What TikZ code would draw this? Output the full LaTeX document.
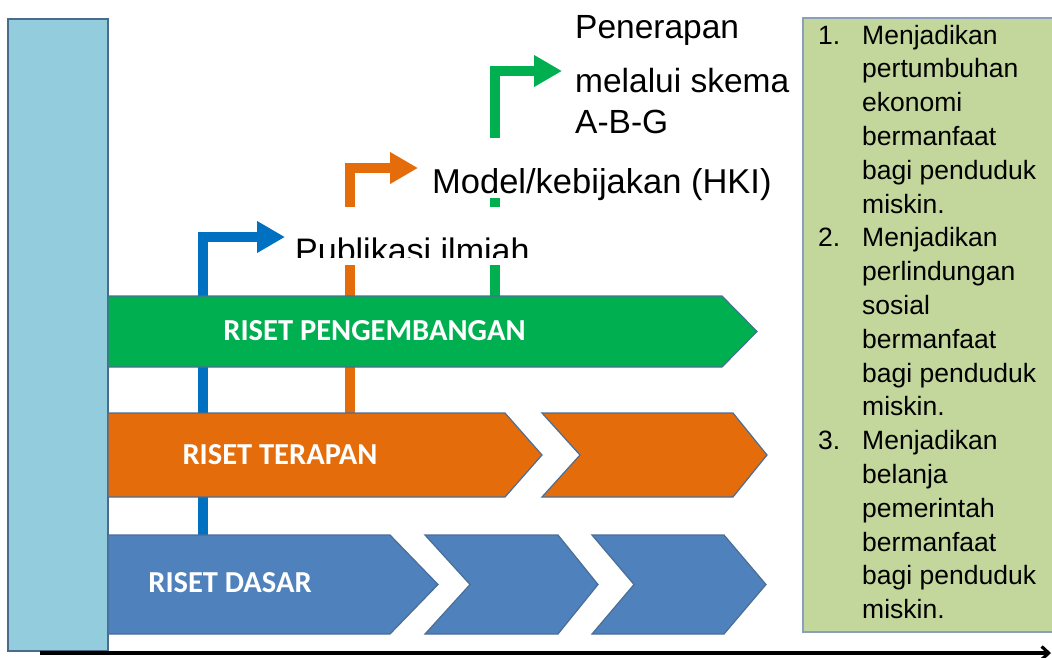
\documentclass[tikz,border=0pt]{standalone}
\usepackage{fontspec}
\setmainfont{Liberation Sans}
\newfontfamily\calib{Carlito}
\usetikzlibrary{arrows.meta}
\definecolor{lbar}{HTML}{93CDDD}
\definecolor{lbarline}{HTML}{4A6B8C}
\definecolor{barline}{HTML}{4A6E96}
\definecolor{gbar}{HTML}{00B050}
\definecolor{obar}{HTML}{E46C0A}
\definecolor{bbar}{HTML}{4F81BD}
\definecolor{barrow}{HTML}{0070C0}
\definecolor{rbox}{HTML}{C3D69B}
\definecolor{rboxline}{HTML}{8A9FBC}
\begin{document}
\begin{tikzpicture}[x=1pt,y=-1pt,
  bar/.style={draw=barline, line width=1.2pt},
  barlabel/.style={text=white, font=\calib\bfseries\fontsize{30.5}{36}\selectfont, inner sep=0},
  flow/.style={line width=10pt, line join=miter, -{Triangle[length=28pt,width=30pt]}},
  lbl/.style={font=\fontsize{34}{40}\selectfont, inner sep=0, anchor=base west},
  listtxt/.style={font=\fontsize{26.5}{32}\selectfont, inner sep=0, anchor=base west}]
\useasboundingbox (0,0) rectangle (1052,657);
% background panels
\draw[fill=lbar, draw=lbarline, line width=2pt] (8,19) rectangle (108,651);
\draw[fill=rbox, draw=rboxline, line width=1.5pt] (803,18) rectangle (1075,632);
% flow arrows
\coordinate (bS) at (203,535);
\coordinate (bE) at (285,237);
\coordinate (oS) at (350,413);
\coordinate (oE) at (418,168);
\coordinate (gS) at (495,296);
\coordinate (gE) at (562,71);
\draw[flow, barrow] (bS) |- (bE);
\draw[flow, obar] (oS) |- (oE);
\draw[flow, gbar] (gS) |- (gE);
% label boxes
\fill[white] (285,207) rectangle (535,265);
\begin{scope}
\clip (0,0) rectangle (1052,257);
\node[lbl] (pub) at (295,262) {Publikasi ilmiah};
\end{scope}
\fill[white] (418,138) rectangle (793,198);
\node[lbl, font=\fontsize{34.5}{40}\selectfont] (model) at (432,193) {Model/kebijakan (HKI)};
\node[lbl, font=\fontsize{33.5}{40}\selectfont] (pen1) at (575,38) {Penerapan};
\node[lbl, font=\fontsize{33.5}{40}\selectfont] (pen2) at (575,92) {melalui skema};
\node[lbl, font=\fontsize{33.5}{40}\selectfont] (pen3) at (575,133) {A-B-G};
% bars
\draw[bar, fill=gbar] (108,296) -- (722,296) -- (757,331.5) -- (722,367) -- (108,367) -- cycle;
\node[barlabel] (rp) at (374.5,331) {RISET PENGEMBANGAN};
\draw[bar, fill=obar] (108,413) -- (505,413) -- (542,455) -- (505,497) -- (108,497) -- cycle;
\draw[bar, fill=obar] (542,413) -- (733,413) -- (767,455) -- (733,497) -- (542,497) -- (580,455) -- cycle;
\node[barlabel] (rt) at (280,455) {RISET TERAPAN};
\draw[bar, fill=bbar] (108,535) -- (390,535) -- (438,584.5) -- (390,634) -- (108,634) -- cycle;
\draw[bar, fill=bbar] (425,535) -- (558,535) -- (598,584.5) -- (558,634) -- (425,634) -- (470,584.5) -- cycle;
\draw[bar, fill=bbar] (592,535) -- (724,535) -- (766,584.5) -- (724,634) -- (592,634) -- (634,584.5) -- cycle;
\node[barlabel] (rd) at (230,583) {RISET DASAR};
% list
\foreach \n/\t [count=\i from 0] in {1./Menjadikan, /pertumbuhan, /ekonomi, /bermanfaat, /bagi penduduk, /miskin., 2./Menjadikan, /perlindungan, /sosial, /bermanfaat, /bagi penduduk, /miskin., 3./Menjadikan, /belanja, /pemerintah, /bermanfaat, /bagi penduduk, /miskin.}{
  \node[listtxt] (r\i) at (862,{44+\i*33.8}) {\t};
  \node[listtxt] (n\i) at (818,{44+\i*33.8}) {\n};
}
% axis
\coordinate (ax0) at (40,653);
\coordinate (ax1) at (1051,653);
\draw[line width=3.2pt, -{Straight Barb[length=7pt,width=13pt]}] (ax0) -- (ax1);
\end{tikzpicture}
\end{document}
